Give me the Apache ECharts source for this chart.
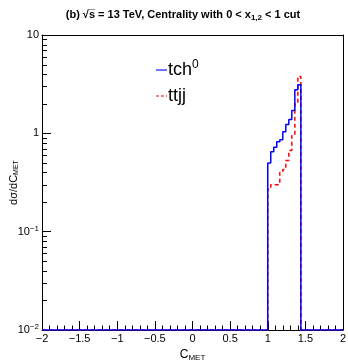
<!DOCTYPE html>
<html>
<head>
<meta charset="utf-8">
<title>C_MET</title>
<script src="https://cdn.jsdelivr.net/npm/echarts@6/dist/echarts.min.js"></script>
<style>
    html, body { margin: 0; padding: 0; background: #fff; }
    #main { width: 348px; height: 363px; }
</style>
</head>
<body>
<div id="main"></div>
<script>
// bin low edges (last entry = upper edge of last bin)
var binEdges = [1.00, 1.04, 1.08, 1.12, 1.16, 1.20, 1.24, 1.28, 1.32, 1.36, 1.40, 1.44];
var tchValues = [0.50, 0.65, 0.72, 0.82, 0.86, 1.04, 1.23, 1.38, 1.71, 2.78, 3.12];
var ttjjValues = [0.27, 0.30, 0.30, 0.30, 0.40, 0.43, 0.53, 0.67, 0.95, 2.0, 3.79];
var xRange = [-2, 2];
var yRange = [0.01, 10];
var xTickLabels = {'-2': '\u22122', '-1.5': '\u22121.5', '-1': '\u22121', '-0.5': '\u22120.5', '0': '0', '0.5': '0.5', '1': '1', '1.5': '1.5', '2': '2'};
var yTickLabels = {'10': '10', '1': '1', '0.1': '10{sup|\u22121}', '0.01': '10{sup|\u22122}'};

var font = 'Liberation Sans';

// step outline of a histogram, sitting on the bottom of the frame outside the filled bins
function histLine(vals) {
    var d = [[xRange[0], yRange[0]]];
    for (var i = 0; i < vals.length; i++) {
        d.push([binEdges[i], vals[i]]);
    }
    d.push([binEdges[vals.length], yRange[0]]);
    d.push([xRange[1], yRange[0]]);
    return d;
}

var chart = echarts.init(document.getElementById('main'));
var option = {
    animation: false,
    title: {
        text: '(b) \u221As\u0305 = 13 TeV, Centrality with 0 < x{sub|1,2} < 1 cut',
        left: 178, top: 3, textAlign: 'center',
        textStyle: {
            fontFamily: font, fontSize: 11, fontWeight: 'bold', color: '#000',
            rich: { sub: { fontFamily: font, fontSize: 8, fontWeight: 'bold', verticalAlign: 'bottom', padding: [6, 0, 0, 0] } }
        }
    },
    legend: {
        data: [
            { name: 'tch0', icon: 'path://M0,0h10v1h-10z' },
            { name: 'ttjj', icon: 'path://M0,0h3v1h-3z M5,0h3v1h-3z M10,0h1v1h-1z' }
        ],
        orient: 'vertical',
        left: 151, top: 54,
        itemWidth: 11, itemHeight: 1.5, itemGap: 8,
        formatter: function (n) { return n === 'tch0' ? 'tch{sup|0}' : n; },
        textStyle: {
            fontFamily: font, fontSize: 18, color: '#000', padding: [0, 0, 0, -4],
            rich: { sup: { fontFamily: font, fontSize: 12, verticalAlign: 'top', padding: [0, 0, 10, 0] } }
        }
    },
    grid: { left: 42, right: 5, top: 35, bottom: 33, outerBoundsMode: 'none', containLabel: false },
    xAxis: [{
        type: 'value', min: xRange[0], max: xRange[1], interval: 0.5,
        name: 'C{sub|MET}', nameLocation: 'middle', nameGap: 18, nameMoveOverlap: false,
        nameTextStyle: {
            fontFamily: font, fontSize: 12, color: '#000',
            rich: { sub: { fontFamily: font, fontSize: 8, padding: [6, 0, 0, 0] } }
        },
        axisLine: { onZero: false, lineStyle: { color: '#000', width: 1 } },
        axisTick: { inside: true, length: 9, lineStyle: { color: '#000' } },
        minorTick: { show: true, splitNumber: 5, length: 4.5, lineStyle: { color: '#000' } },
        splitLine: { show: false },
        axisLabel: {
            fontFamily: font, fontSize: 11, color: '#000', margin: 3,
            formatter: function (v) { return xTickLabels[String(v)]; }
        }
    }, {
        type: 'value', position: 'top', min: xRange[0], max: xRange[1],
        axisLine: { onZero: false, lineStyle: { color: '#000' } },
        axisTick: { show: false }, axisLabel: { show: false }, splitLine: { show: false }
    }],
    yAxis: [{
        type: 'log', logBase: 10, min: yRange[0], max: yRange[1],
        name: 'd\u03C3/dC{sub|MET}', nameLocation: 'middle', nameGap: 22, nameRotate: 90, nameMoveOverlap: false,
        nameTextStyle: {
            fontFamily: font, fontSize: 11, color: '#000',
            rich: { sub: { fontFamily: font, fontSize: 7, padding: [5, 0, 0, 0] } }
        },
        axisLine: { onZero: false, lineStyle: { color: '#000', width: 1 } },
        axisTick: { inside: true, length: 9, lineStyle: { color: '#000' } },
        minorTick: { show: false },
        splitLine: { show: false },
        axisLabel: {
            fontFamily: font, fontSize: 11, color: '#000', margin: 3,
            formatter: function (v) { return yTickLabels[String(+v.toPrecision(3))] || ''; },
            rich: { sup: { fontFamily: font, fontSize: 8, verticalAlign: 'top', padding: [0, 0, 6, 0] } }
        }
    }, {
        type: 'log', logBase: 10, position: 'right', min: yRange[0], max: yRange[1],
        axisLine: { onZero: false, lineStyle: { color: '#000' } },
        axisTick: { show: false }, axisLabel: { show: false }, splitLine: { show: false }
    }],
    series: [{
        name: 'ttjj', type: 'line', step: 'end', symbol: 'none',
        data: histLine(ttjjValues),
        lineStyle: { color: '#ff0000', width: 1.5, type: [4, 3] },
        itemStyle: { color: '#ff0000' }
    }, {
        name: 'tch0', type: 'line', step: 'end', symbol: 'none',
        data: histLine(tchValues),
        lineStyle: { color: '#0000ff', width: 1.5 },
        itemStyle: { color: '#0000ff' }
    }]
};
chart.setOption(option);

// log minor ticks (2..9 of each decade), placed through the axis scale
var x0 = chart.convertToPixel({ xAxisIndex: 0 }, xRange[0]);
var minor = [];
for (var dec = 0.01; dec < 9; dec *= 10) {
    for (var k = 2; k <= 9; k++) {
        var p = chart.convertToPixel({ yAxisIndex: 0 }, dec * k);
        minor.push({
            type: 'line', silent: true, z: 10,
            shape: { x1: x0, y1: Math.round(p) + 0.5, x2: x0 + 5, y2: Math.round(p) + 0.5 },
            style: { stroke: '#000', lineWidth: 1 }
        });
    }
}
chart.setOption({ graphic: minor });
</script>
</body>
</html>
